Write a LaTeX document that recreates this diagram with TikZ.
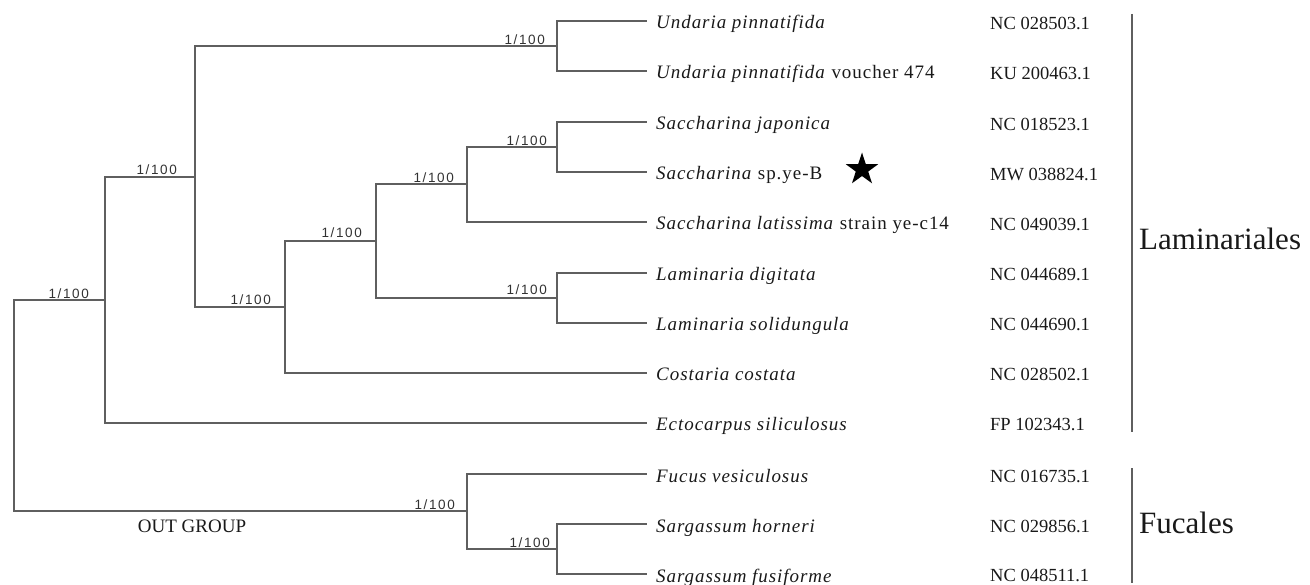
\documentclass[tikz,border=0pt]{standalone}
\usepackage{fontspec}
\setmainfont{Liberation Serif}
\newfontfamily\leaffont[LetterSpace=5]{Liberation Serif}
\newfontfamily\bsfont[LetterSpace=12]{Liberation Sans}
\usetikzlibrary{shapes.geometric}
\definecolor{branchgray}{RGB}{95,95,95}
\definecolor{supportgray}{RGB}{50,50,50}
\definecolor{inkblack}{RGB}{25,25,25}
\begin{document}
\begin{tikzpicture}[x=1pt,y=-1pt,
  branch/.style={draw=branchgray,line width=1.4pt},
  taxon/.style={anchor=base west,inner sep=0pt,font=\leaffont\fontsize{19}{19}\selectfont,text=inkblack},
  acc/.style={anchor=base west,inner sep=0pt,font=\fontsize{18.5}{18.5}\selectfont,text=inkblack},
  support/.style={anchor=base east,inner sep=0pt,font=\bsfont\fontsize{13.5}{13.5}\selectfont,text=supportgray},
  grouplabel/.style={anchor=base west,inner sep=0pt,font=\fontsize{31}{31}\selectfont,text=inkblack},
  bar/.style={draw=branchgray,line width=1.3pt}]
\useasboundingbox (0,0) rectangle (1310,585);

% internal nodes (x, branch y)
\coordinate (R) at (14,405);
\coordinate (A) at (105,300);
\coordinate (B) at (195,177);
\coordinate (U) at (557,46);
\coordinate (C) at (285,307);
\coordinate (D) at (376,241);
\coordinate (E) at (467,184);
\coordinate (F) at (557,147);
\coordinate (G) at (557,298);
\coordinate (H) at (467,511);
\coordinate (I) at (557,549);

% leaf ends
\coordinate (L1) at (647,21);
\coordinate (L2) at (647,71);
\coordinate (L3) at (647,122);
\coordinate (L4) at (647,172);
\coordinate (L5) at (647,222);
\coordinate (L6) at (647,273);
\coordinate (L7) at (647,323);
\coordinate (L8) at (647,373);
\coordinate (L9) at (647,423);
\coordinate (L10) at (647,474);
\coordinate (L11) at (647,524);
\coordinate (L12) at (647,574);

% branches
\draw[branch] (R) |- (A);
\draw[branch] (R) |- (H);
\draw[branch] (A) |- (B);
\draw[branch] (A) |- (L9);
\draw[branch] (B) |- (U);
\draw[branch] (B) |- (C);
\draw[branch] (U) |- (L1);
\draw[branch] (U) |- (L2);
\draw[branch] (C) |- (D);
\draw[branch] (C) |- (L8);
\draw[branch] (D) |- (E);
\draw[branch] (D) |- (G);
\draw[branch] (E) |- (F);
\draw[branch] (E) |- (L5);
\draw[branch] (F) |- (L3);
\draw[branch] (F) |- (L4);
\draw[branch] (G) |- (L6);
\draw[branch] (G) |- (L7);
\draw[branch] (H) |- (L10);
\draw[branch] (H) |- (I);
\draw[branch] (I) |- (L11);
\draw[branch] (I) |- (L12);

% support values
\node[support] (sA) at (89,298.6) {1/100};
\node[support] (sB) at (177,174.6) {1/100};
\node[support] (sU) at (545,44.6) {1/100};
\node[support] (sC) at (271,304.6) {1/100};
\node[support] (sD) at (362,237.6) {1/100};
\node[support] (sE) at (454,182.6) {1/100};
\node[support] (sF) at (547,145.6) {1/100};
\node[support] (sG) at (547,294.6) {1/100};
\node[support] (sH) at (455,509.6) {1/100};
\node[support] (sI) at (550,547.6) {1/100};

\node[anchor=base,inner sep=0pt,font=\fontsize{19}{19}\selectfont,text=inkblack] (og) at (192,532.5) {OUT GROUP};

% taxa
\node[taxon] (t1) at (656,29) {\itshape Undaria pinnatifida};
\node[taxon] (t2) at (656,79) {\textit{Undaria pinnatifida} voucher 474};
\node[taxon] (t3) at (656,130) {\itshape Saccharina japonica};
\node[taxon] (t4) at (656,180) {\textit{Saccharina} sp.ye-B};
\node[taxon] (t5) at (656,230) {\textit{Saccharina latissima} strain ye-c14};
\node[taxon] (t6) at (656,281) {\itshape Laminaria digitata};
\node[taxon] (t7) at (656,331) {\itshape Laminaria solidungula};
\node[taxon] (t8) at (656,381) {\itshape Costaria costata};
\node[taxon] (t9) at (656,431) {\itshape Ectocarpus siliculosus};
\node[taxon] (t10) at (656,482) {\itshape Fucus vesiculosus};
\node[taxon] (t11) at (656,532) {\itshape Sargassum horneri};
\node[taxon] (t12) at (656,582) {\itshape Sargassum fusiforme};

\node[star,star points=5,star point ratio=2.6,fill=black,draw=none,minimum size=34pt,inner sep=0pt] (mark) at (862,169.5) {};

% accessions
\node[acc] (a1) at (990,30) {NC 028503.1};
\node[acc] (a2) at (990,80) {KU 200463.1};
\node[acc] (a3) at (990,131) {NC 018523.1};
\node[acc] (a4) at (990,181) {MW 038824.1};
\node[acc] (a5) at (990,231) {NC 049039.1};
\node[acc] (a6) at (990,281) {NC 044689.1};
\node[acc] (a7) at (990,331) {NC 044690.1};
\node[acc] (a8) at (990,381) {NC 028502.1};
\node[acc] (a9) at (990,431) {FP 102343.1};
\node[acc] (a10) at (990,482) {NC 016735.1};
\node[acc] (a11) at (990,532) {NC 029856.1};
\node[acc] (a12) at (990,581) {NC 048511.1};

% group bars
\coordinate (lamTop) at (1132,14);
\coordinate (lamBot) at (1132,432);
\coordinate (fucTop) at (1132,468);
\coordinate (fucBot) at (1132,583);
\draw[bar] (lamTop) -- (lamBot);
\draw[bar] (fucTop) -- (fucBot);
\node[grouplabel] (lam) at (1139,250) {Laminariales};
\node[grouplabel] (fuc) at (1139,533) {Fucales};
\end{tikzpicture}
\end{document}
